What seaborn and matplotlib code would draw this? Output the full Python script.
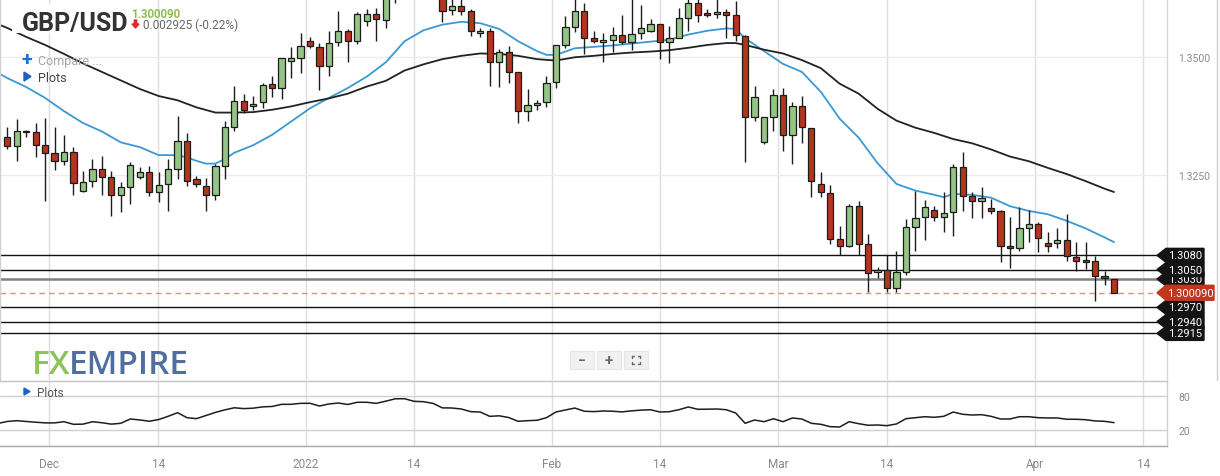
import numpy as np
import pandas as pd
import matplotlib
matplotlib.use("Agg")
import matplotlib.pyplot as plt
import seaborn as sns
from matplotlib.patches import Polygon, Rectangle, FancyArrow
from matplotlib.transforms import blended_transform_factory

# ---------------- data ----------------
opens = [1.3330, 1.3312, 1.3344, 1.3340, 1.3314, 1.3296, 1.3279, 1.3298, 1.3217, 1.3237,
         1.3262, 1.3245, 1.3208, 1.3224, 1.3246, 1.3256, 1.3213, 1.3230, 1.3262, 1.3321,
         1.3241, 1.3227, 1.3208, 1.3268, 1.3351, 1.3406, 1.3395, 1.3404, 1.3442, 1.3433,
         1.3492, 1.3497, 1.3534, 1.3520, 1.3481, 1.3531, 1.3554, 1.3533, 1.3575, 1.3591,
         1.3578, 1.3642, 1.3712, 1.3717, 1.3677, 1.3650, 1.3642, 1.3599, 1.3607, 1.3596,
         1.3550, 1.3554, 1.3488, 1.3510, 1.3467, 1.3386, 1.3397, 1.3404, 1.3446, 1.3525,
         1.3564, 1.3596, 1.3539, 1.3531, 1.3536, 1.3546, 1.3532, 1.3550, 1.3554, 1.3569,
         1.3532, 1.3540, 1.3581, 1.3613, 1.3593, 1.3591, 1.3594, 1.3588, 1.3543, 1.3372,
         1.3319, 1.3372, 1.3420, 1.3335, 1.3395, 1.3349, 1.3230, 1.3211, 1.3115, 1.3099,
         1.3184, 1.3103, 1.3045, 1.3050, 1.3010, 1.3044, 1.3141, 1.3161, 1.3176, 1.3161,
         1.3171, 1.3266, 1.3205, 1.3194, 1.3180, 1.3173, 1.3099, 1.3095, 1.3137, 1.3146,
         1.3106, 1.3106, 1.3113, 1.3076, 1.3070, 1.3069, 1.3036, 1.3029]
highs = [1.3352, 1.3368, 1.3345, 1.3361, 1.3371, 1.3351, 1.3335, 1.3310, 1.3259, 1.3284,
         1.3290, 1.3259, 1.3235, 1.3277, 1.3266, 1.3268, 1.3256, 1.3284, 1.3374, 1.3338,
         1.3247, 1.3244, 1.3273, 1.3364, 1.3438, 1.3421, 1.3416, 1.3445, 1.3460, 1.3497,
         1.3520, 1.3550, 1.3541, 1.3529, 1.3555, 1.3597, 1.3559, 1.3594, 1.3601, 1.3603,
         1.3660, 1.3720, 1.3749, 1.3722, 1.3686, 1.3668, 1.3655, 1.3630, 1.3628, 1.3601,
         1.3561, 1.3561, 1.3516, 1.3523, 1.3467, 1.3432, 1.3409, 1.3459, 1.3525, 1.3586,
         1.3625, 1.3614, 1.3554, 1.3550, 1.3562, 1.3588, 1.3630, 1.3610, 1.3580, 1.3569,
         1.3566, 1.3603, 1.3625, 1.3628, 1.3601, 1.3625, 1.3601, 1.3619, 1.3546, 1.3439,
         1.3372, 1.3432, 1.3435, 1.3404, 1.3416, 1.3349, 1.3256, 1.3229, 1.3143, 1.3189,
         1.3194, 1.3125, 1.3056, 1.3081, 1.3089, 1.3157, 1.3217, 1.3197, 1.3185, 1.3215,
         1.3273, 1.3298, 1.3213, 1.3224, 1.3199, 1.3176, 1.3161, 1.3182, 1.3176, 1.3150,
         1.3129, 1.3137, 1.3168, 1.3108, 1.3108, 1.3079, 1.3046, 1.3029]
lows = [1.3306, 1.3279, 1.3330, 1.3288, 1.3194, 1.3261, 1.3272, 1.3208, 1.3213, 1.3224,
        1.3208, 1.3163, 1.3171, 1.3189, 1.3242, 1.3206, 1.3192, 1.3173, 1.3242, 1.3227,
        1.3224, 1.3173, 1.3198, 1.3242, 1.3342, 1.3381, 1.3388, 1.3392, 1.3414, 1.3411,
        1.3455, 1.3466, 1.3518, 1.3430, 1.3459, 1.3522, 1.3490, 1.3526, 1.3566, 1.3533,
        1.3560, 1.3614, 1.3683, 1.3655, 1.3640, 1.3630, 1.3573, 1.3589, 1.3589, 1.3545,
        1.3541, 1.3439, 1.3437, 1.3445, 1.3359, 1.3365, 1.3387, 1.3393, 1.3435, 1.3518,
        1.3552, 1.3506, 1.3529, 1.3490, 1.3510, 1.3527, 1.3514, 1.3538, 1.3552, 1.3495,
        1.3487, 1.3539, 1.3555, 1.3573, 1.3584, 1.3581, 1.3539, 1.3534, 1.3277, 1.3365,
        1.3316, 1.3342, 1.3301, 1.3273, 1.3317, 1.3203, 1.3203, 1.3104, 1.3081, 1.3097,
        1.3081, 1.3002, 1.3032, 1.3002, 1.3002, 1.3039, 1.3089, 1.3113, 1.3153, 1.3129,
        1.3120, 1.3174, 1.3159, 1.3160, 1.3168, 1.3067, 1.3053, 1.3090, 1.3108, 1.3087,
        1.3087, 1.3095, 1.3069, 1.3046, 1.3051, 1.2983, 1.3018, 1.30009]
closes = [1.3312, 1.3342, 1.3340, 1.3314, 1.3296, 1.3279, 1.3298, 1.3233, 1.3235, 1.3262,
          1.3245, 1.3208, 1.3224, 1.3271, 1.3256, 1.3213, 1.3229, 1.3262, 1.3321, 1.3238,
          1.3230, 1.3208, 1.3268, 1.3351, 1.3406, 1.3388, 1.3401, 1.3440, 1.3433, 1.3497,
          1.3497, 1.3522, 1.3522, 1.3481, 1.3529, 1.3554, 1.3533, 1.3591, 1.3591, 1.3580,
          1.3642, 1.3712, 1.3717, 1.3677, 1.3650, 1.3642, 1.3597, 1.3607, 1.3596, 1.3554,
          1.3554, 1.3488, 1.3510, 1.3467, 1.3386, 1.3397, 1.3402, 1.3444, 1.3525, 1.3562,
          1.3596, 1.3539, 1.3533, 1.3536, 1.3546, 1.3532, 1.3548, 1.3560, 1.3569, 1.3532,
          1.3539, 1.3581, 1.3613, 1.3588, 1.3588, 1.3594, 1.3588, 1.3546, 1.3372, 1.3414,
          1.3372, 1.3420, 1.3335, 1.3395, 1.3351, 1.3237, 1.3213, 1.3115, 1.3099, 1.3184,
          1.3103, 1.3042, 1.3050, 1.3010, 1.3044, 1.3139, 1.3158, 1.3182, 1.3161, 1.3169,
          1.3266, 1.3206, 1.3194, 1.3201, 1.3173, 1.3100, 1.3095, 1.3137, 1.3146, 1.3116,
          1.3100, 1.3113, 1.3078, 1.3069, 1.3065, 1.3036, 1.3032, 1.30009]

ma20_idx = [-1, 0, 2, 4, 6, 8, 10, 12, 14, 16, 18, 19, 20, 21, 22, 23, 24, 26, 28, 30, 32, 34,
            36, 38, 40, 42, 44, 46, 48, 50, 52, 54, 56, 57, 58, 60, 62, 64, 66, 68, 70, 72,
            74, 76, 77, 78, 80, 82, 84, 86, 88, 90, 92, 94, 96, 98, 99, 100, 102, 104, 106,
            108, 110, 112, 114, 116, 117]
ma20 = [1.3466, 1.3455, 1.3436, 1.3413, 1.3385, 1.3360, 1.3342, 1.3319, 1.3309, 1.3292,
        1.3292, 1.3287, 1.3280, 1.3274, 1.3274, 1.3284, 1.3297, 1.3313, 1.3335, 1.3363,
        1.3391, 1.3413, 1.3434, 1.3458, 1.3488, 1.3533, 1.3556, 1.3568, 1.3574, 1.3571,
        1.3559, 1.3533, 1.3512, 1.3504, 1.3504, 1.3518, 1.3521, 1.3524, 1.3528, 1.3532,
        1.3536, 1.3547, 1.3555, 1.3560, 1.3559, 1.3539, 1.3512, 1.3485, 1.3468, 1.3426,
        1.3369, 1.3329, 1.3275, 1.3231, 1.3217, 1.3208, 1.3203, 1.3210, 1.3208, 1.3202,
        1.3184, 1.3174, 1.3167, 1.3153, 1.3137, 1.3118, 1.3108]

ma50_idx = [-1, 0, 2, 4, 6, 8, 10, 12, 14, 16, 18, 20, 22, 24, 26, 28, 30, 32, 34, 36, 38,
            40, 42, 44, 46, 48, 50, 52, 54, 56, 58, 60, 62, 64, 66, 68, 70, 72, 74, 76, 77,
            78, 80, 82, 84, 86, 88, 90, 92, 94, 96, 98, 100, 102, 104, 106, 108, 110, 112,
            114, 116, 117]
ma50 = [1.3569, 1.3561, 1.3542, 1.3525, 1.3506, 1.3486, 1.3468, 1.3450, 1.3432, 1.3417,
        1.3408, 1.3393, 1.3382, 1.3382, 1.3383, 1.3388, 1.3395, 1.3404, 1.3412, 1.3422,
        1.3437, 1.3449, 1.3471, 1.3484, 1.3495, 1.3502, 1.3507, 1.3506, 1.3502, 1.3495,
        1.3492, 1.3499, 1.3502, 1.3506, 1.3509, 1.3511, 1.3514, 1.3519, 1.3525, 1.3529,
        1.3529, 1.3525, 1.3515, 1.3507, 1.3493, 1.3476, 1.3443, 1.3422, 1.3390, 1.3365,
        1.3350, 1.3339, 1.3326, 1.3317, 1.3304, 1.3289, 1.3279, 1.3265, 1.3252, 1.3237,
        1.3221, 1.3214]

rsi_start = -1
rsi = [31, 34.5, 35.9, 34.5, 33.2, 32, 32, 34.1, 29.5, 29.8,
       34, 32.3, 29.8, 31.3, 38.9, 37.2, 34.9, 37.9, 43.6, 50,
       41.2, 39.5, 45, 50.5, 55, 58.7, 57.2, 58, 60.3, 61,
       64.8, 64.8, 66.5, 66.6, 61.8, 65.4, 67.1, 64.5, 68.4, 68.4,
       66.5, 70.3, 74.5, 74.7, 70.1, 69.4, 66.5, 58.5, 58.3, 56.5,
       51.8, 51.2, 43.6, 44.5, 41.5, 34.8, 35.9, 36.6, 41.2, 51.2,
       54.8, 58.2, 52.6, 51.9, 53, 52.6, 51.4, 53.3, 54.5, 55.2,
       51.2, 51.8, 55.3, 60.1, 56, 56.2, 56.5, 55.3, 49.5, 31.3,
       37.1, 34.1, 39.4, 34.1, 40.7, 38.9, 31.3, 29.5, 25.3, 24.8,
       34.1, 30.6, 27.8, 28.3, 27.1, 30.1, 39.4, 41.2, 42.9, 41.9,
       43.6, 51.2, 47.2, 45.9, 46.5, 43.6, 38.9, 38.9, 42.9, 42.9,
       41.2, 40.7, 40.7, 38.4, 38.4, 37.6, 35.4, 34.8, 32.4]

levels = [1.3080, 1.3050, 1.3030, 1.2970, 1.2940, 1.2915]
level_labels = ["1.3080", "1.3050", "1.3030", "1.2970", "1.2940", "1.2915"]
last_price = 1.300090
last_label = "1.300090"
change_label = "0.002925 (-0.22%)"
symbol = "GBP/USD"

x_tick_pos = [4.44, 15.96, 31.54, 43.0, 57.55, 69.0, 81.5, 93.0, 108.6, 120.1]
x_tick_labels = ["Dec", "14", "2022", "14", "Feb", "14", "Mar", "14", "Apr", "14"]
y_ticks = [1.3250, 1.3500]
y_tick_labels = ["1.3250", "1.3500"]
rsi_ticks = [20, 80]

# ---------------- style ----------------
sns.set_theme(style="white")
plt.rcParams['font.family'] = ['Roboto', 'DejaVu Sans']

W, H = 1220, 477
fig = plt.figure(figsize=(W / 100, H / 100), dpi=100)
AXW = 1167
MAIN_H = 381
ax = fig.add_axes([0, 1 - MAIN_H / H, AXW / W, MAIN_H / H])
ax2 = fig.add_axes([0, 1 - 447 / H, AXW / W, (447 - 381.7) / H])

YMIN, YMAX = 1.28164, 1.36222
XMIN, XMAX = -0.77, 122.6
DP = (YMAX - YMIN) / MAIN_H

GREEN = "#95c487"
RED = "#b3351d"
EDGE = "#1c1c1c"

df = pd.DataFrame({"i": np.arange(len(opens)), "o": opens, "h": highs,
                   "l": lows, "c": closes})
up = df["c"] >= df["o"]

# grid
for xp in x_tick_pos:
    ax.axvline(xp, color="#dedede", lw=1, zorder=0)
    ax2.axvline(xp, color="#dedede", lw=1, zorder=0)
for yp in y_ticks:
    ax.axhline(yp, color="#ececec", lw=1, zorder=0)

# levels
for lv, lab in zip(levels, level_labels):
    if lab == "1.3030":
        ax.axhline(lv, color="#808080", lw=1.8, zorder=1)
    else:
        ax.axhline(lv, color="#111111", lw=1.0, zorder=1)
ax.axhline(last_price, color="#d9907f", lw=1.0, ls=(0, (4, 3)), zorder=1)

# moving averages
sns.lineplot(x=ma20_idx, y=ma20, ax=ax, color="#3c98d4", lw=1.3, zorder=2, sort=False)
sns.lineplot(x=ma50_idx, y=ma50, ax=ax, color="#222222", lw=1.3, zorder=2, sort=False)

# candles
ax.vlines(df["i"], df["l"], df["h"], color=EDGE, lw=1.0, zorder=3)
bottom = np.minimum(df["o"], df["c"])
height = np.maximum((df["c"] - df["o"]).abs(), 0.00012)
ax.bar(df["i"], height, bottom=bottom, width=0.66,
       color=np.where(up, GREEN, RED), edgecolor=EDGE, linewidth=0.9, zorder=4)

ax.set_xlim(XMIN, XMAX)
ax.set_ylim(YMIN, YMAX)
ax.set_xticks(x_tick_pos)
ax.set_xticklabels([])
ax.yaxis.tick_right()
ax.set_yticks(y_ticks)
ax.set_yticklabels(y_tick_labels)
ax.tick_params(axis="y", length=0, pad=8, labelsize=7.5, labelcolor="#8a8a8a")
ax.tick_params(axis="x", length=0)
ax.set_xlabel("")
ax.set_ylabel("")
for s in ["top", "bottom"]:
    ax.spines[s].set_visible(False)
ax.spines["left"].set_color("#d0d0d0")
ax.spines["right"].set_color("#d8d8d8")
ax.spines["left"].set_linewidth(1)
ax.spines["right"].set_linewidth(1)

# price tags at right
tr = blended_transform_factory(ax.transAxes, ax.transData)


def tag(y, text, color, xr, hh_px, zo):
    hh = hh_px * DP
    pts = [(1157 / AXW, y), (1166 / AXW, y + hh), (xr / AXW, y + hh),
           (xr / AXW, y - hh), (1166 / AXW, y - hh)]
    ax.add_patch(Polygon(pts, closed=True, transform=tr, facecolor=color,
                         edgecolor=color, clip_on=False, zorder=zo))
    ax.text((1167 + xr) / 2 / AXW, y, text, transform=tr, color="white",
            fontsize=8, ha="center", va="center", clip_on=False, zorder=zo + 1)


order = sorted(range(len(levels)), key=lambda k: 0 if level_labels[k] == "1.3030" else 1)
for k in order:
    tag(levels[k], level_labels[k], "#141414", 1204, 7.0, 10 + 2 * (k != 2))
tag(last_price, last_label, "#c0391e", 1214, 7.5, 20)

# lower indicator panel
sns.lineplot(x=list(range(rsi_start, rsi_start + len(rsi))), y=rsi, ax=ax2,
             color="#1e1e1e", lw=1.1, zorder=3)
for yp in rsi_ticks:
    ax2.axhline(yp, color="#cfcfcf", lw=1, zorder=0)
ax2.set_xlim(XMIN, XMAX)
ax2.set_ylim(-8.8, 106.5)
ax2.set_xticks(x_tick_pos)
ax2.set_xticklabels(x_tick_labels)
ax2.yaxis.tick_right()
ax2.set_yticks(rsi_ticks)
ax2.set_yticklabels([str(t) for t in rsi_ticks])
ax2.tick_params(axis="y", length=0, pad=8, labelsize=7.5, labelcolor="#8a8a8a")
ax2.tick_params(axis="x", length=0, pad=8, labelsize=8.5, labelcolor="#8a8a8a")
ax2.set_xlabel("")
ax2.set_ylabel("")
ax2.spines["left"].set_visible(False)
ax2.spines["top"].set_color("#c4c4c4")
ax2.spines["bottom"].set_color("#a8a8a8")
ax2.spines["right"].set_color("#d0d0d0")
for s in ["top", "bottom", "right"]:
    ax2.spines[s].set_linewidth(1)

# overlay for header / UI decorations (pixel coordinates)
ov = fig.add_axes([0, 0, 1, 1], zorder=30)
ov.set_xlim(0, W)
ov.set_ylim(H, 0)
ov.axis("off")
ov.patch.set_alpha(0)

ov.add_patch(Rectangle((12, 5), 114, 28.5, facecolor="white", edgecolor="none"))
ov.text(22, 30.5, symbol, fontsize=18, weight="bold", color="#333333", va="baseline")
ov.text(131.5, 17.5, last_label, fontsize=8.3, weight="bold", color="#8cc152", va="baseline")
ov.add_patch(FancyArrow(135.5, 21, 0, 4, width=2.4, head_width=7, head_length=4,
                        length_includes_head=False, color="#e1242f"))
ov.text(143, 29.5, change_label, fontsize=8.5, color="#666666", va="baseline")

ov.text(27, 59.5, "+", fontsize=14, weight="bold", color="#1f6fd0", ha="center", va="center")
ov.text(38, 64.5, "Compare ...", fontsize=9, color="#a5a5a5", va="baseline")
ov.add_patch(Polygon([(24, 73), (31, 77.5), (24, 82)], closed=True, color="#1f5fc8"))
ov.text(38, 82, "Plots", fontsize=9, color="#444444", va="baseline")

ov.add_patch(Polygon([(24, 389), (30, 392.5), (24, 396)], closed=True, color="#1f5fc8"))
ov.text(37.5, 397, "Plots", fontsize=8.5, color="#555555", va="baseline")

# watermark logo
ov.text(32, 374.5, "FX", fontsize=24, color="#8dc45a", family="Open Sans",
        weight="semibold", va="baseline")
ov.text(69, 374.5, "EMPIRE", fontsize=24, color="#4f6f9f", family="Open Sans",
        weight="semibold", va="baseline")

# zoom buttons
for bx in [570, 597, 624]:
    ov.add_patch(Rectangle((bx, 352), 24, 18, facecolor="#f1f1f1", edgecolor="#e6e6e6", lw=0.8))
ov.text(582, 361, "\u2212", fontsize=10, weight="bold", color="#666666", ha="center", va="center")
ov.text(609, 361, "+", fontsize=11, weight="bold", color="#666666", ha="center", va="center")
cx, cy, s, c = 636, 361, 4, 2
for sx in (-1, 1):
    for sy in (-1, 1):
        ov.plot([cx + sx * s, cx + sx * s], [cy + sy * s, cy + sy * (s - c)], color="#666666", lw=1)
        ov.plot([cx + sx * s, cx + sx * (s - c)], [cy + sy * s, cy + sy * s], color="#666666", lw=1)

ov.plot([1217, 1217], [0, 381], color="#cfcfcf", lw=1)

fig.savefig("out.png", dpi=100)
